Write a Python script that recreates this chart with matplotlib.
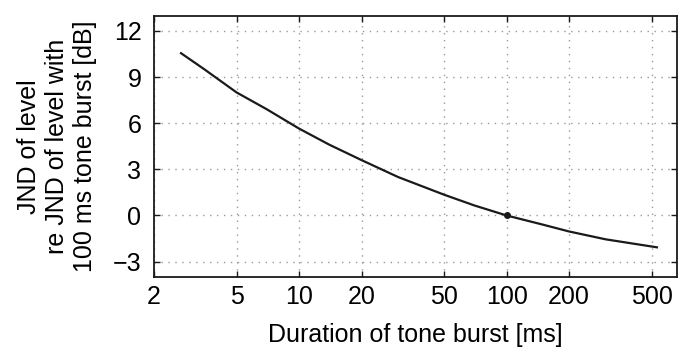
import matplotlib.pyplot as plt

# Curve (duration in ms, JND re 100 ms in dB)
duration_ms = [2.7, 3.5, 5, 7, 10, 14, 20, 30, 50, 70, 100, 150, 200, 300, 530]
jnd_db = [10.55, 9.5, 8.0, 6.9, 5.65, 4.6, 3.6, 2.5, 1.35, 0.65, 0.0, -0.6, -1.04, -1.55, -2.07]

ref_x = [100]
ref_y = [0]

x_ticks = [2, 5, 10, 20, 50, 100, 200, 500]
y_ticks = [-3, 0, 3, 6, 9, 12]

plt.rcParams['font.family'] = ['Liberation Sans', 'DejaVu Sans']
plt.rcParams['font.size'] = 18

fig = plt.figure(figsize=(6.78, 3.47), dpi=100)
ax = fig.add_axes([0.2271, 0.2017, 0.7714, 0.7536])

ax.plot(duration_ms, jnd_db, color='#1a1a1a', lw=1.6)
ax.plot(ref_x, ref_y, 'o', color='#1a1a1a', ms=4)

ax.set_xscale('log')
ax.set_xlim(2, 662)
ax.set_ylim(-4, 13)
ax.set_xticks(x_ticks)
ax.set_xticklabels([str(t) for t in x_ticks])
ax.minorticks_off()
ax.set_yticks(y_ticks)
ax.set_yticklabels(['\u22123' if t < 0 else str(t) for t in y_ticks])

ax.tick_params(direction='in', length=4, width=1, top=True, right=True, color='#1a1a1a')
ax.tick_params(axis='x', pad=6)
ax.tick_params(axis='y', pad=9)
for s in ax.spines.values():
    s.set_linewidth(1.3)
    s.set_color('#1a1a1a')

ax.grid(True, ls=(0, (1, 4)), color='0.6', lw=1)

ax.set_xlabel('Duration of tone burst [ms]', labelpad=9.5)
ax.set_ylabel('JND of level\nre JND of level with\n100 ms tone burst [dB]', linespacing=1.2)
ax.yaxis.set_label_coords(-0.109, 0.5)

fig.savefig('out.png', dpi=100)
